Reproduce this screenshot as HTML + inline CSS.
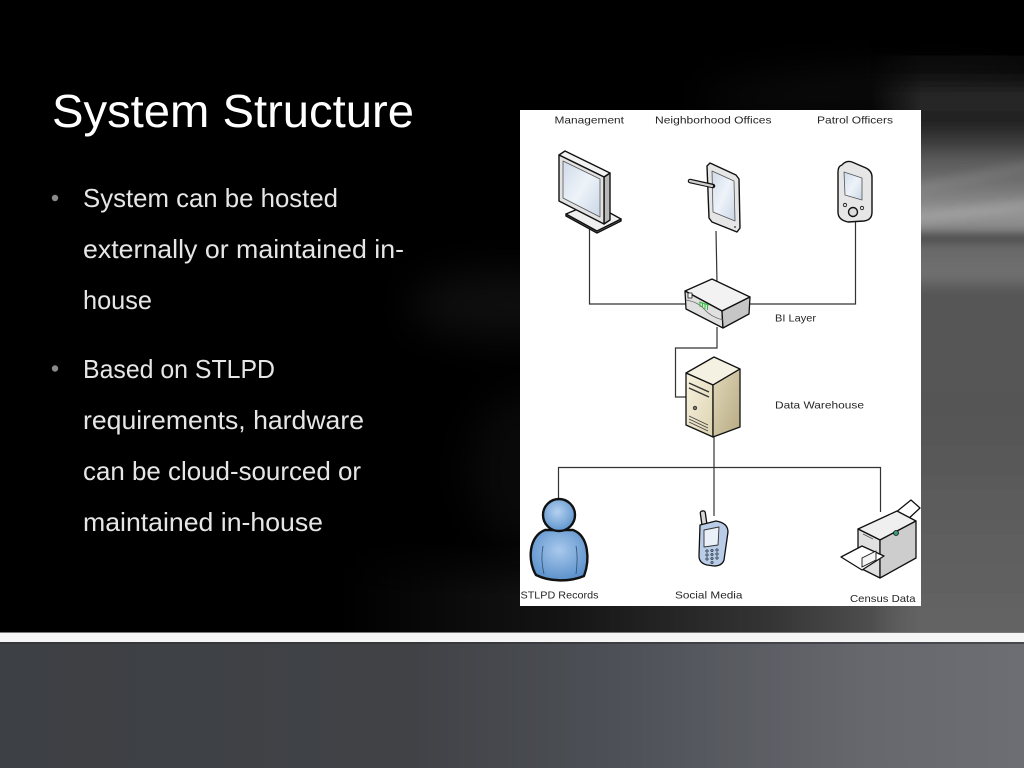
<!DOCTYPE html>
<html>
<head>
<meta charset="utf-8">
<style>
html,body{margin:0;padding:0;background:#000;}
svg{display:block;}
</style>
</head>
<body>
<svg width="1024" height="768" viewBox="0 0 1024 768" xmlns="http://www.w3.org/2000/svg">
<defs>
  <filter id="b6" filterUnits="userSpaceOnUse" x="0" y="0" width="1024" height="768"><feGaussianBlur stdDeviation="4"/></filter>
  <filter id="b20" filterUnits="userSpaceOnUse" x="0" y="0" width="1024" height="768"><feGaussianBlur stdDeviation="20"/></filter>
  <linearGradient id="rs" gradientUnits="userSpaceOnUse" x1="0" y1="0" x2="0" y2="633">
    <stop offset="0" stop-color="#111" stop-opacity="0"/>
    <stop offset="0.1" stop-color="#151515" stop-opacity="0.3"/>
    <stop offset="0.155" stop-color="#2a2a2a" stop-opacity="1"/>
    <stop offset="0.19" stop-color="#202020"/>
    <stop offset="0.225" stop-color="#3c3c3c"/>
    <stop offset="0.25" stop-color="#585858"/>
    <stop offset="0.28" stop-color="#6a6a6a"/>
    <stop offset="0.305" stop-color="#7c7c7c"/>
    <stop offset="0.335" stop-color="#949494"/>
    <stop offset="0.36" stop-color="#8a8a8a"/>
    <stop offset="0.375" stop-color="#474747"/>
    <stop offset="0.39" stop-color="#686868"/>
    <stop offset="0.435" stop-color="#707070"/>
    <stop offset="0.46" stop-color="#575757"/>
    <stop offset="0.65" stop-color="#555"/>
    <stop offset="1" stop-color="#646464"/>
  </linearGradient>
  <linearGradient id="hfade" gradientUnits="userSpaceOnUse" x1="870" y1="0" x2="922" y2="0">
    <stop offset="0" stop-color="#000"/>
    <stop offset="1" stop-color="#fff"/>
  </linearGradient>
  <mask id="hm" maskUnits="userSpaceOnUse" x="0" y="0" width="1024" height="768">
    <rect x="0" y="0" width="1024" height="768" fill="url(#hfade)"/>
  </mask>
  <linearGradient id="bh" gradientUnits="userSpaceOnUse" x1="0" y1="0" x2="1024" y2="0">
    <stop offset="0" stop-color="#000"/>
    <stop offset="0.33" stop-color="#000"/>
    <stop offset="0.55" stop-color="#141414"/>
    <stop offset="0.75" stop-color="#343434"/>
    <stop offset="0.88" stop-color="#555"/>
    <stop offset="1" stop-color="#666"/>
  </linearGradient>
  <linearGradient id="vfade" gradientUnits="userSpaceOnUse" x1="0" y1="540" x2="0" y2="633">
    <stop offset="0" stop-color="#000"/>
    <stop offset="0.6" stop-color="#fff"/>
    <stop offset="1" stop-color="#fff"/>
  </linearGradient>
  <mask id="vm" maskUnits="userSpaceOnUse" x="0" y="0" width="1024" height="768">
    <rect x="0" y="540" width="1024" height="93" fill="url(#vfade)"/>
  </mask>
  <linearGradient id="bot" gradientUnits="userSpaceOnUse" x1="0" y1="0" x2="1024" y2="0">
    <stop offset="0" stop-color="#3d4044"/>
    <stop offset="0.4" stop-color="#404246"/>
    <stop offset="0.6" stop-color="#4d5056"/>
    <stop offset="0.85" stop-color="#66686e"/>
    <stop offset="1" stop-color="#6c6e73"/>
  </linearGradient>
  <linearGradient id="scr" x1="0" y1="0" x2="1" y2="1">
    <stop offset="0" stop-color="#cfdbe9"/>
    <stop offset="0.5" stop-color="#eef3f9"/>
    <stop offset="1" stop-color="#c9d6e6"/>
  </linearGradient>
  <linearGradient id="srvF" x1="0" y1="0" x2="1" y2="1">
    <stop offset="0" stop-color="#f7f2df"/>
    <stop offset="1" stop-color="#ddd3b0"/>
  </linearGradient>
  <linearGradient id="srvR" x1="0" y1="0" x2="1" y2="1">
    <stop offset="0" stop-color="#e2d9ba"/>
    <stop offset="1" stop-color="#b6aa82"/>
  </linearGradient>
  <radialGradient id="pb" cx="0.5" cy="0.4" r="0.7">
    <stop offset="0" stop-color="#a9c9ec"/>
    <stop offset="1" stop-color="#4f88c6"/>
  </radialGradient>
  <radialGradient id="ph" cx="0.45" cy="0.4" r="0.65">
    <stop offset="0" stop-color="#b4d1f0"/>
    <stop offset="1" stop-color="#5a91cc"/>
  </radialGradient>
</defs>

<!-- background -->
<rect x="0" y="0" width="1024" height="633" fill="#000"/>
<rect x="0" y="540" width="1024" height="93" fill="url(#bh)" mask="url(#vm)"/>
<g filter="url(#b20)">
  <ellipse cx="510" cy="305" rx="100" ry="32" fill="#fff" fill-opacity="0.06"/>
  <ellipse cx="530" cy="470" rx="60" ry="80" fill="#fff" fill-opacity="0.035"/>
  <ellipse cx="860" cy="90" rx="160" ry="18" fill="#fff" fill-opacity="0.05" transform="rotate(-4 860 90)"/>
</g>
<g mask="url(#hm)">
  <g filter="url(#b6)">
    <rect x="860" y="0" width="180" height="640" fill="url(#rs)"/>
    <path d="M880,190 L1030,160 L1030,172 L880,201 Z" fill="#fff" fill-opacity="0.08"/>
    <path d="M880,218 L1030,198 L1030,210 L880,231 Z" fill="#fff" fill-opacity="0.1"/>
  </g>
</g>

<!-- separator and bottom band -->
<rect x="0" y="632" width="1024" height="1" fill="#777"/>
<rect x="0" y="633" width="1024" height="9" fill="#f5f5f5"/>
<rect x="0" y="642" width="1024" height="126" fill="url(#bot)"/>
<rect x="0" y="642" width="1024" height="2" fill="#2e3034" opacity="0.6"/>

<!-- title and bullets -->
<text x="52" y="127" font-family="Liberation Sans, sans-serif" font-size="46" fill="#fff" textLength="362" lengthAdjust="spacingAndGlyphs">System Structure</text>

<g font-family="Liberation Sans, sans-serif" font-size="26" fill="#e6e6e6">
  <circle cx="55" cy="198" r="3.2" fill="#8a8a8a"/>
  <text x="83" y="207" textLength="255" lengthAdjust="spacingAndGlyphs">System can be hosted</text>
  <text x="83" y="258" textLength="321" lengthAdjust="spacingAndGlyphs">externally or maintained in-</text>
  <text x="83" y="309" textLength="69" lengthAdjust="spacingAndGlyphs">house</text>
  <circle cx="55" cy="368.5" r="3.2" fill="#8a8a8a"/>
  <text x="83" y="378" textLength="192" lengthAdjust="spacingAndGlyphs">Based on STLPD</text>
  <text x="83" y="429" textLength="281" lengthAdjust="spacingAndGlyphs">requirements, hardware</text>
  <text x="83" y="480" textLength="278" lengthAdjust="spacingAndGlyphs">can be cloud-sourced or</text>
  <text x="83" y="531" textLength="240" lengthAdjust="spacingAndGlyphs">maintained in-house</text>
</g>

<!-- diagram panel -->
<rect x="520" y="110" width="401" height="496" fill="#fff"/>

<!-- connectors -->
<g fill="none" stroke="#333" stroke-width="1.2">
  <path d="M589.5,222 V304 H686"/>
  <path d="M716,231 L717,282"/>
  <path d="M855.5,220 V304 H750"/>
  <path d="M717,327 V348 H675.5 V397 H687"/>
  <path d="M714,436 V516"/>
  <path d="M558.5,499 V467.5 H880.5 V512"/>
</g>

<!-- Management monitor -->
<g stroke="#111" stroke-width="1.4" stroke-linejoin="round">
  <polygon points="566,216 597,233 621,221 621,219 597,231 566,214" fill="#9a9a9a"/>
  <polygon points="566,214 592,203 621,219 597,231" fill="#f0f0f0"/>
  <polygon points="604,177 610,173 610,220 604,224" fill="#b8b8b8"/>
  <polygon points="559,155 565,151 610,173 604,177" fill="#f2f2f2"/>
  <polygon points="559,155 604,177 604,224 559,201" fill="#e2e2e2"/>
  <polygon points="563,161 600,179 600,217 563,198" fill="url(#scr)" stroke="#555" stroke-width="0.8"/>
</g>

<!-- Tablet -->
<g stroke="#111" stroke-width="1.4" stroke-linejoin="round">
  <polygon points="707,166 710,163 736,175 739,179 740,228 737,232 712,222 709,218" fill="#e6e6e6"/>
  <polygon points="712,171 734,181 735,221 713,212" fill="url(#scr)" stroke="#555" stroke-width="0.8"/>
  <circle cx="735" cy="227" r="1" fill="#555" stroke="none"/>
  <line x1="690" y1="181" x2="713" y2="186" stroke="#111" stroke-width="4.5" stroke-linecap="round"/>
  <line x1="690" y1="181" x2="712" y2="186" stroke="#cfcfcf" stroke-width="2.2" stroke-linecap="round"/>
</g>

<!-- PDA -->
<g stroke="#111" stroke-width="1.4" stroke-linejoin="round">
  <path d="M842,165 Q846,160 852,162 L866,168 Q872,171 872,177 L872,212 Q872,220 864,221 L848,222 Q838,220 838,212 L838,172 Q838,166 842,165 Z" fill="#e6e6e6"/>
  <polygon points="844,172 862,178 862,200 845,195" fill="url(#scr)" stroke="#555" stroke-width="0.8"/>
  <circle cx="853" cy="212" r="4.5" fill="#ddd"/>
  <circle cx="845" cy="205" r="1.7" fill="#ddd" stroke-width="0.8"/>
  <circle cx="862" cy="208" r="1.7" fill="#ddd" stroke-width="0.8"/>
</g>

<!-- Router (BI Layer) -->
<g stroke="#111" stroke-width="1.3" stroke-linejoin="round">
  <polygon points="685,291 712,279 750,297 722,311" fill="#f2f2f2"/>
  <polygon points="685,291 722,311 723,328 686,309" fill="#e0e0e0"/>
  <polygon points="722,311 750,297 749,314 723,328" fill="#c6c6c6"/>
  <path d="M686,300 Q698,302 704,309 Q711,317 723,320" fill="none" stroke="#666" stroke-width="0.8"/>
  <rect x="688" y="293" width="4" height="5" fill="#fff" stroke-width="0.8"/>
  <g stroke="#2fbf3a" stroke-width="1">
    <line x1="700" y1="302" x2="700" y2="307"/>
    <line x1="702.5" y1="303" x2="702.5" y2="308"/>
    <line x1="705" y1="304" x2="705" y2="309"/>
    <line x1="707.5" y1="305" x2="707.5" y2="310"/>
    <line x1="699" y1="302" x2="709" y2="305"/>
  </g>
</g>

<!-- Server (Data Warehouse) -->
<g stroke="#111" stroke-width="1.3" stroke-linejoin="round">
  <polygon points="686,373 714,357 740,369 713,385" fill="#f4f0e2"/>
  <polygon points="686,373 713,385 713,437 686,425" fill="url(#srvF)"/>
  <polygon points="713,385 740,369 740,427 713,437" fill="url(#srvR)"/>
  <g stroke="#333" stroke-width="1.4">
    <line x1="689" y1="383" x2="709" y2="392"/>
    <line x1="689" y1="388" x2="709" y2="397"/>
  </g>
  <circle cx="695" cy="408" r="1.8" fill="#777" stroke-width="0.6"/>
  <g stroke="#444" stroke-width="0.8">
    <line x1="689" y1="416" x2="708" y2="425"/>
    <line x1="689" y1="419" x2="708" y2="428"/>
    <line x1="689" y1="422" x2="708" y2="431"/>
  </g>
</g>

<!-- Person (STLPD Records) -->
<g stroke="#111" stroke-width="2.4" stroke-linejoin="round">
  <path d="M536,575 C527,560 529,536 545,530 L573,530 C589,536 590,560 584,576 C570,582 550,582 536,575 Z" fill="url(#pb)"/>
  <path d="M543,546 C541,556 542,566 544,574" fill="none" stroke="#2e4f77" stroke-width="0.8"/>
  <path d="M576,546 C578,556 577,566 576,574" fill="none" stroke="#2e4f77" stroke-width="0.8"/>
  <circle cx="559" cy="515" r="16" fill="url(#ph)"/>
</g>

<!-- Phone (Social Media) -->
<g stroke="#111" stroke-width="1.3" stroke-linejoin="round">
  <rect x="701" y="511" width="5" height="15" rx="2" fill="#d8d8d8" transform="rotate(-8 703 518)"/>
  <path d="M700,525 L716,521 Q728,523 728,532 L724,560 Q722,566 714,566 L707,565 Q699,563 699,556 Z" fill="#b9cde8"/>
  <polygon points="704,530 719,527 718,545 704,547" fill="#eaf0f7" stroke="#333" stroke-width="0.9"/>
  <g fill="#6f86a8" stroke="#222" stroke-width="0.5">
    <circle cx="707" cy="551" r="1.3"/><circle cx="712" cy="550.5" r="1.3"/><circle cx="717" cy="550" r="1.3"/>
    <circle cx="707" cy="555" r="1.3"/><circle cx="712" cy="554.5" r="1.3"/><circle cx="717" cy="554" r="1.3"/>
    <circle cx="707" cy="559" r="1.3"/><circle cx="712" cy="558.5" r="1.3"/><circle cx="717" cy="558" r="1.3"/>
    <circle cx="712" cy="562.5" r="1.3"/>
  </g>
</g>

<!-- Printer (Census Data) -->
<g stroke="#111" stroke-width="1.3" stroke-linejoin="round">
  <polygon points="895,513 911,500 920,508 906,521" fill="#fff"/>
  <polygon points="858,529 897,511 916,521 880,540" fill="#efefef"/>
  <polygon points="858,529 880,540 880,578 858,567" fill="#e0e0e0"/>
  <polygon points="880,540 916,521 916,558 880,578" fill="#cdcdcd"/>
  <line x1="863" y1="534" x2="873" y2="539" stroke="#555" stroke-width="0.8"/>
  <circle cx="896" cy="533" r="2.5" fill="#3a9b78" stroke-width="0.8"/>
  <polygon points="841,557 862,546 884,556 862,570" fill="#fff"/>
  <polygon points="862,558 876,551 876,560 862,567" fill="#f4f4f4" stroke-width="0.9"/>
</g>

<!-- Diagram labels -->
<g font-family="Liberation Sans, sans-serif" font-size="10.5" fill="#262626">
  <text x="554.5" y="123.5" textLength="69.5" lengthAdjust="spacingAndGlyphs">Management</text>
  <text x="655" y="123.5" textLength="116.5" lengthAdjust="spacingAndGlyphs">Neighborhood Offices</text>
  <text x="817" y="123.5" textLength="76" lengthAdjust="spacingAndGlyphs">Patrol Officers</text>
  <text x="775" y="321.5" textLength="41" lengthAdjust="spacingAndGlyphs">BI Layer</text>
  <text x="775" y="408.5" textLength="89" lengthAdjust="spacingAndGlyphs">Data Warehouse</text>
  <text x="520.5" y="598.5" textLength="78" lengthAdjust="spacingAndGlyphs">STLPD Records</text>
  <text x="675" y="598.5" textLength="67.5" lengthAdjust="spacingAndGlyphs">Social Media</text>
  <text x="850" y="602" textLength="65.5" lengthAdjust="spacingAndGlyphs">Census Data</text>
</g>
</svg>
</body>
</html>
